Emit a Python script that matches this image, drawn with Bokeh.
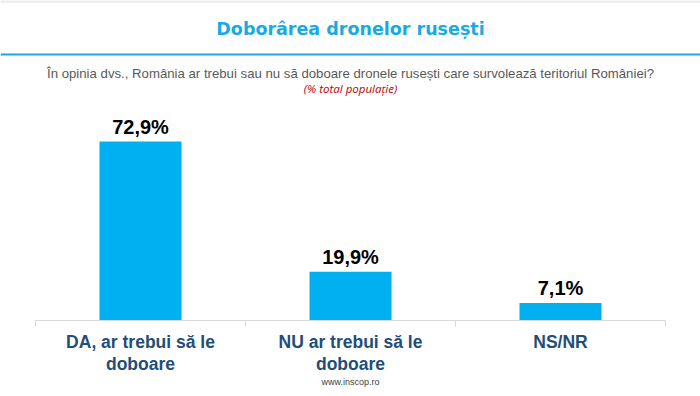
from bokeh.plotting import figure
from bokeh.models import FactorRange, Range1d, Span, ColumnDataSource
from bokeh.core.properties import value
from bokeh.embed import file_html
from bokeh.resources import INLINE

categories = ["DA, ar trebui să le\ndoboare", "NU ar trebui să le\ndoboare", "NS/NR"]
values = [72.9, 19.9, 7.1]
value_labels = ["72,9%", "19,9%", "7,1%"]

title_text = "Doborârea dronelor rusești"
subtitle_text = "În opinia dvs., România ar trebui sau nu să doboare dronele rusești care survolează teritoriul României?"
note_text = "(% total populație)"
footer_text = "www.inscop.ro"

W, H = 700, 396
cat_w = 210.0
base_px = 320.0            # baseline y in pixels from top
ppu = 2.455                # pixels per percentage unit

def ydata(px_from_top):
    return (base_px - px_from_top) / ppu

x_range = FactorRange(factors=categories, range_padding=35.0 / cat_w,
                      range_padding_units="absolute")
y_range = Range1d(ydata(H), ydata(0))

p = figure(width=W, height=H, x_range=x_range, y_range=y_range,
           output_backend="svg", toolbar_location=None,
           min_border=0, min_border_left=0, min_border_right=0,
           min_border_top=0, min_border_bottom=0)
p.axis.visible = False
p.grid.visible = False
p.outline_line_color = None
p.background_fill_color = "white"
p.border_fill_color = "white"

src = ColumnDataSource(dict(cat=categories, val=values, lab=value_labels))

# top grey strip
p.add_layout(Span(location=ydata(1), dimension="width",
                  line_color="#EEEEEE", line_width=3))

# bars
p.vbar(x="cat", top="val", bottom=0, width=82.0 / cat_w, source=src,
       fill_color="#00B0F0", line_color=None)

# baseline axis line and separators
p.segment(x0=[0], y0=[0], x1=[3], y1=[0], line_color="#D9D9D9", line_width=1)
p.segment(x0=[0, 1, 2, 3], y0=[0] * 4, x1=[0, 1, 2, 3], y1=[ydata(base_px + 6)] * 4,
          line_color="#D9D9D9", line_width=1)

# value labels
p.text(x="cat", y="val", text="lab", source=src, text_align="center",
       text_baseline="bottom", y_offset=-4, text_color="black",
       text_font=value("Liberation Sans"), text_font_style="bold",
       text_font_size="20px")

# category labels
p.text(x="cat", y=ydata(331), text="cat", source=src, text_align="center",
       text_baseline="top", text_color="#1F4E79",
       text_font=value("Liberation Sans"), text_font_style="bold",
       text_font_size="17.5px", text_line_height=1.1)

mid = [1.5]
# title
p.text(x=mid, y=[ydata(28)], text=[title_text], text_align="center",
       text_baseline="middle", text_color="#1AAAE2",
       text_font=value("DejaVu Sans"), text_font_style="bold",
       text_font_size="17.5px")
p.add_layout(Span(location=ydata(54), dimension="width",
                  line_color="#1FA6DE", line_width=2))

# subtitle
p.text(x=mid, y=[ydata(73)], text=[subtitle_text], text_align="center",
       text_baseline="middle", text_color="#595959",
       text_font=value("Liberation Sans"), text_font_size="13.2px")
p.text(x=mid, y=[ydata(88)], text=[note_text], text_align="center",
       text_baseline="middle", text_color="#C00000",
       text_font=value("Open Sans"), text_font_style="italic",
       text_font_size="11.5px")

# footer
p.text(x=mid, y=[ydata(381)], text=[footer_text], text_align="center",
       text_baseline="middle", text_color="#404040",
       text_font=value("Liberation Sans"), text_font_size="9px")

open("out.html", "w").write(file_html(p, INLINE))
